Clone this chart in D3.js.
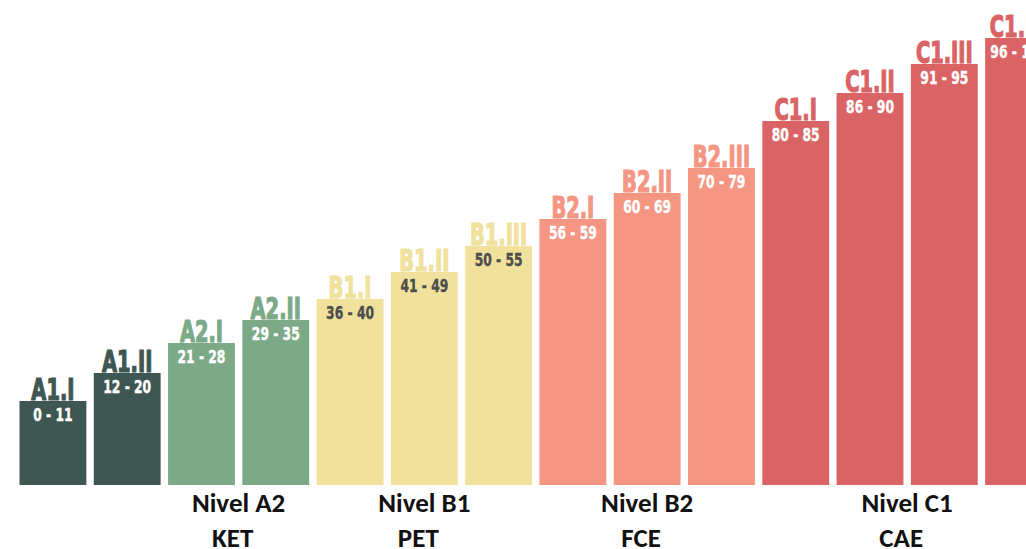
<!DOCTYPE html>
<html>
<head>
<meta charset="utf-8">
<script src="https://cdn.jsdelivr.net/npm/d3@7"></script>
<style>
  html, body { margin: 0; padding: 0; background: #fff; overflow: hidden; }
  .bar-label, .range-label { font-family: "DejaVu Sans Condensed", "DejaVu Sans", sans-serif; font-weight: bold; }
  .group-label { font-family: Carlito, Lato, "Liberation Sans", sans-serif; font-weight: bold; }
</style>
</head>
<body>
<div id="chart"></div>
<script>
// Sublevels, left to right.
const sublevels = ['A1.I', 'A1.II', 'A2.I', 'A2.II', 'B1.I', 'B1.II', 'B1.III',
  'B2.I', 'B2.II', 'B2.III', 'C1.I', 'C1.II', 'C1.III', 'C1.IV']
const scoreRanges = ['0 - 11', '12 - 20', '21 - 28', '29 - 35', '36 - 40', '41 - 49', '50 - 55',
  '56 - 59', '60 - 69', '70 - 79', '80 - 85', '86 - 90', '91 - 95', '96 - 100']
// Bar heights (arbitrary units).
const barHeight = [84, 112, 142, 165, 186, 213, 239, 266, 292, 317, 364, 392, 421, 447]
const levelOf = ['A1', 'A1', 'A2', 'A2', 'B1', 'B1', 'B1', 'B2', 'B2', 'B2', 'C1', 'C1', 'C1', 'C1']

// Level groups shown under the bars.
const levels = ['A1', 'A2', 'B1', 'B2', 'C1']
const levelColor = ['#3f5753', '#7caa88', '#f0e29c', '#f59683', '#da6465']
const rangeColor = ['#ffffff', '#ffffff', '#4d4d4d', '#ffffff', '#ffffff']
const groupTitles = [null, 'Nivel A2', 'Nivel B1', 'Nivel B2', 'Nivel C1']
const groupExams = [null, 'KET', 'PET', 'FCE', 'CAE']

const width = 1026
const height = 549
const baseline = 485

const data = sublevels.map((s, i) => ({
  name: s,
  range: scoreRanges[i],
  value: barHeight[i],
  level: levelOf[i]
}))

const svg = d3.select('#chart')
  .append('svg')
  .attr('width', width)
  .attr('height', height)

/**
 * Scales.
 */
const x = d3.scaleBand()
  .domain(sublevels)
  .range([19.5, 1052])
  .paddingInner(0.1)
  .paddingOuter(0)
const y = d3.scaleLinear()
  .domain([0, baseline])
  .range([baseline, 0])
const color = d3.scaleOrdinal().domain(levels).range(levelColor)
const textColor = d3.scaleOrdinal().domain(levels).range(rangeColor)
const cx = d => x(d.name) + x.bandwidth() / 2

/**
 * Bars.
 */
const bar = svg.selectAll('.bar')
  .data(data)
  .enter()
  .append('g')
  .attr('class', 'bar')

bar.append('rect')
  .attr('x', d => x(d.name))
  .attr('y', d => y(d.value))
  .attr('width', x.bandwidth())
  .attr('height', d => y(0) - y(d.value))
  .attr('fill', d => color(d.level))

// Sublevel name sitting on top of each bar (condensed, poster style).
bar.append('text')
  .attr('class', 'bar-label')
  .attr('transform', d => `translate(${cx(d)},${y(d.value) - 1}) scale(0.72,1)`)
  .attr('text-anchor', 'middle')
  .attr('font-size', 30)
  .attr('fill', d => color(d.level))
  .attr('stroke', d => color(d.level))
  .attr('stroke-width', 1.2)
  .text(d => d.name)

// Score range inside the bar.
bar.append('text')
  .attr('class', 'range-label')
  .attr('transform', d => `translate(${cx(d)},${y(d.value) + 20}) scale(0.76,1)`)
  .attr('text-anchor', 'middle')
  .attr('font-size', 18)
  .attr('fill', d => textColor(d.level))
  .attr('stroke', d => textColor(d.level))
  .attr('stroke-width', 0.4)
  .text(d => d.range)

/**
 * Group labels under the bars.
 */
const groups = levels
  .map((lv, i) => {
    const members = data.filter(d => d.level === lv)
    const x0 = x(members[0].name)
    const x1 = x(members[members.length - 1].name) + x.bandwidth()
    return { title: groupTitles[i], exam: groupExams[i], cx: (x0 + x1) / 2 }
  })
  .filter(g => g.title != null)

const groupLabel = svg.selectAll('.group')
  .data(groups)
  .enter()
  .append('text')
  .attr('class', 'group-label')
  .attr('text-anchor', 'middle')
  .attr('font-size', 27)
  .attr('fill', '#111')

groupLabel.append('tspan')
  .attr('x', d => d.cx)
  .attr('y', baseline + 27)
  .text(d => d.title)
groupLabel.append('tspan')
  .attr('x', d => d.cx - 6)
  .attr('y', baseline + 62)
  .text(d => d.exam)
</script>
</body>
</html>
